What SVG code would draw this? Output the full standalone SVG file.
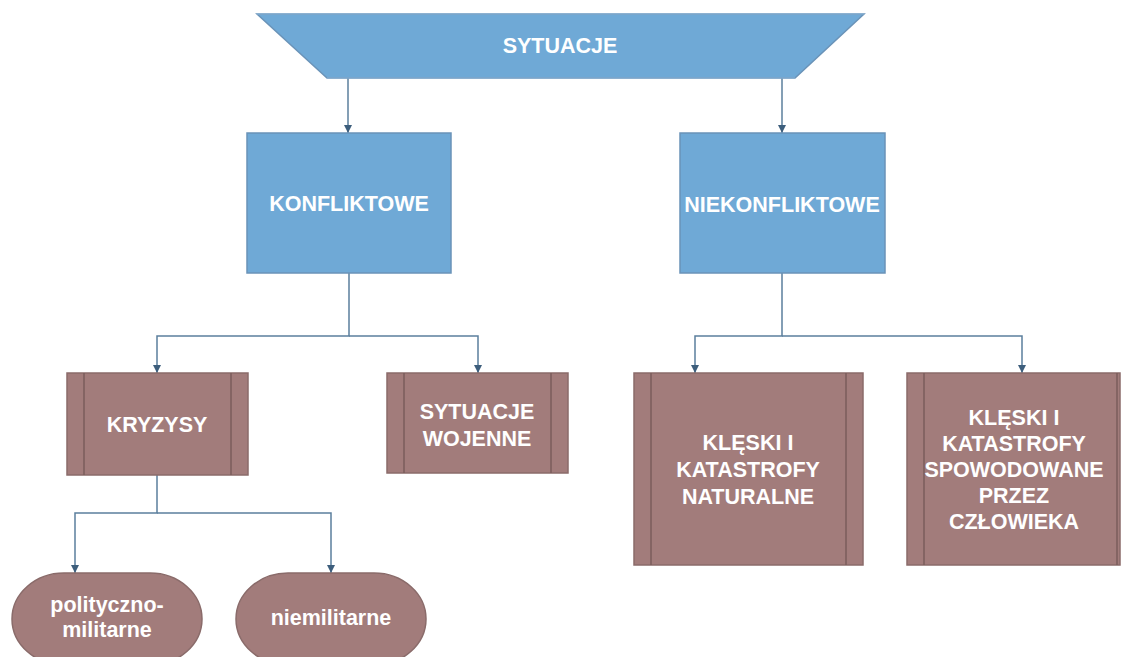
<svg xmlns="http://www.w3.org/2000/svg" width="1122" height="657" viewBox="0 0 1122 657">
  <style>
    .blue { fill: #6fa9d6; stroke: #6a93b8; stroke-width: 1.5; }
    .brown { fill: #a27c7b; stroke: #8a6b6a; stroke-width: 1.5; }
    .inner { stroke: #7a5c5b; stroke-width: 1.5; fill: none; }
    .lbl { font-family: "Liberation Sans", Arial, sans-serif; font-weight: bold; font-size: 21.5px; fill: #ffffff; text-anchor: middle; }
    .conn { stroke: #5b7f9d; stroke-width: 1.5; fill: none; marker-end: url(#arrow); }
  </style>
  <defs>
    <marker id="arrow" viewBox="0 0 10 10" refX="10" refY="5" markerWidth="8" markerHeight="8" markerUnits="userSpaceOnUse" orient="auto">
      <path d="M0,0 L10,5 L0,10 Z" fill="#3d5e7c"/>
    </marker>
  </defs>
  <rect width="1122" height="657" fill="#ffffff"/>

  <g id="connectors">
    <path class="conn" d="M348,78 V133"/>
    <path class="conn" d="M782,78 V133"/>
    <path class="conn" d="M349,273 V336 H157 V373"/>
    <path class="conn" d="M349,336 H478 V373"/>
    <path class="conn" d="M782,273 V336 H695 V373"/>
    <path class="conn" d="M782,336 H1022 V373"/>
    <path class="conn" d="M157,475 V513 H75 V573"/>
    <path class="conn" d="M157,513 H331 V573"/>
  </g>

  <g id="sytuacje">
    <polygon class="blue" points="257,14 864,14 795,78 327,78" stroke="none"/>
    <line x1="257" y1="14" x2="864" y2="14" stroke="#8ab4d8" stroke-width="1"/>
    <line x1="327" y1="78" x2="795" y2="78" stroke="#8ab4d8" stroke-width="1"/>
    <text class="lbl" x="560" y="53">SYTUACJE</text>
  </g>

  <g id="konfliktowe">
    <rect class="blue" x="247" y="133" width="204" height="140"/>
    <text class="lbl" x="349" y="211">KONFLIKTOWE</text>
  </g>

  <g id="niekonfliktowe">
    <rect class="blue" x="680" y="133" width="205" height="140"/>
    <text class="lbl" x="782" y="212">NIEKONFLIKTOWE</text>
  </g>

  <g id="kryzysy">
    <rect class="brown" x="67" y="373" width="181" height="102"/>
    <line class="inner" x1="84" y1="373" x2="84" y2="475"/>
    <line class="inner" x1="231" y1="373" x2="231" y2="475"/>
    <text class="lbl" x="157" y="432">KRYZYSY</text>
  </g>

  <g id="sytuacje-wojenne">
    <rect class="brown" x="387" y="373" width="181" height="100"/>
    <line class="inner" x1="404" y1="373" x2="404" y2="473"/>
    <line class="inner" x1="551" y1="373" x2="551" y2="473"/>
    <text class="lbl" x="477" y="419">SYTUACJE</text>
    <text class="lbl" x="477" y="446">WOJENNE</text>
  </g>

  <g id="kleski-naturalne">
    <rect class="brown" x="634" y="373" width="229" height="192"/>
    <line class="inner" x1="651" y1="373" x2="651" y2="565"/>
    <line class="inner" x1="846" y1="373" x2="846" y2="565"/>
    <text class="lbl" x="748" y="450">KLĘSKI I</text>
    <text class="lbl" x="748" y="477">KATASTROFY</text>
    <text class="lbl" x="748" y="504">NATURALNE</text>
  </g>

  <g id="kleski-czlowiek">
    <rect class="brown" x="907" y="373" width="213" height="192"/>
    <line class="inner" x1="924" y1="373" x2="924" y2="565"/>
    <line class="inner" x1="1117" y1="373" x2="1117" y2="565"/>
    <text class="lbl" x="1014" y="425">KLĘSKI I</text>
    <text class="lbl" x="1014" y="451">KATASTROFY</text>
    <text class="lbl" x="1014" y="477">SPOWODOWANE</text>
    <text class="lbl" x="1014" y="503">PRZEZ</text>
    <text class="lbl" x="1014" y="529">CZŁOWIEKA</text>
  </g>

  <g id="polityczno-militarne">
    <rect class="brown" x="12" y="573" width="190" height="92" rx="52" ry="46"/>
    <text class="lbl" x="107" y="612">polityczno-</text>
    <text class="lbl" x="107" y="637">militarne</text>
  </g>

  <g id="niemilitarne">
    <rect class="brown" x="236" y="573" width="190" height="92" rx="52" ry="46"/>
    <text class="lbl" x="331" y="625">niemilitarne</text>
  </g>
</svg>
